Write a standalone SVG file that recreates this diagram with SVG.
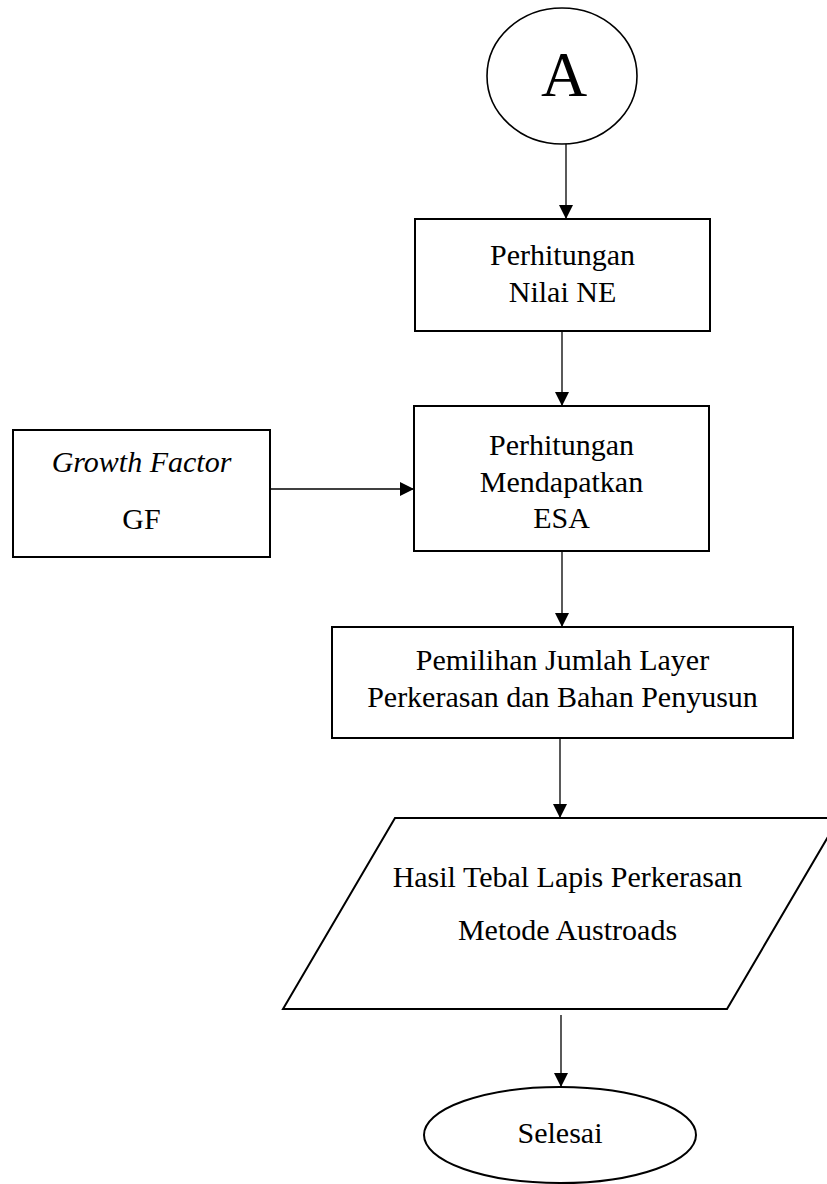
<svg xmlns="http://www.w3.org/2000/svg" width="827" height="1184" viewBox="0 0 827 1184">
  <style>
    .shape { fill: #ffffff; stroke: #000000; stroke-width: 2; }
    .label { font-family: "Liberation Serif", "Times New Roman", serif; font-size: 30px; fill: #000000; text-anchor: middle; }
    .italic { font-style: italic; }
    .big { font-size: 64px; }
    .conn { stroke: #000000; stroke-width: 1.3; fill: none; marker-end: url(#arrow); }
  </style>
  <defs>
    <marker id="arrow" viewBox="0 0 14 14" refX="14" refY="7" markerWidth="14" markerHeight="14" markerUnits="userSpaceOnUse" orient="auto">
      <path d="M0,0 L14,7 L0,14 Z" fill="#000000"/>
    </marker>
  </defs>
  <rect width="827" height="1184" fill="#ffffff"/>

  <!-- connectors -->
  <g id="connectors">
    <line class="conn" x1="566" y1="144" x2="566" y2="219"/>
    <line class="conn" x1="562" y1="331" x2="562" y2="406"/>
    <line class="conn" x1="270" y1="489" x2="414" y2="489"/>
    <line class="conn" x1="562" y1="551" x2="562" y2="627"/>
    <line class="conn" x1="560" y1="738" x2="560" y2="818"/>
    <line class="conn" x1="561" y1="1015" x2="561" y2="1087"/>
  </g>

  <!-- connector A -->
  <g id="node-a">
    <ellipse class="shape" cx="562" cy="76" rx="75" ry="68" style="stroke-width:1.6"/>
    <text class="label big" x="564" y="96">A</text>
  </g>

  <g id="node-ne">
    <rect class="shape" x="415" y="219" width="295" height="112"/>
    <text class="label" x="562.5" y="265">Perhitungan</text>
    <text class="label" x="562.5" y="302">Nilai NE</text>
  </g>

  <g id="node-esa">
    <rect class="shape" x="414" y="406" width="295" height="145"/>
    <text class="label" x="561.5" y="455">Perhitungan</text>
    <text class="label" x="561.5" y="492">Mendapatkan</text>
    <text class="label" x="561.5" y="528">ESA</text>
  </g>

  <g id="node-gf">
    <rect class="shape" x="13" y="430" width="257" height="127"/>
    <text class="label italic" x="141.5" y="472">Growth Factor</text>
    <text class="label" x="141.5" y="529">GF</text>
  </g>

  <g id="node-layer">
    <rect class="shape" x="332" y="627" width="461" height="111"/>
    <text class="label" x="562.5" y="670">Pemilihan Jumlah Layer</text>
    <text class="label" x="562.5" y="707">Perkerasan dan Bahan Penyusun</text>
  </g>

  <g id="node-result">
    <polygon class="shape" points="395,818 839,818 727,1009 283,1009"/>
    <text class="label" x="567.5" y="887">Hasil Tebal Lapis Perkerasan</text>
    <text class="label" x="567.5" y="940">Metode Austroads</text>
  </g>

  <g id="node-end">
    <ellipse class="shape" cx="560" cy="1135" rx="136" ry="48"/>
    <text class="label" x="560" y="1143">Selesai</text>
  </g>
</svg>
